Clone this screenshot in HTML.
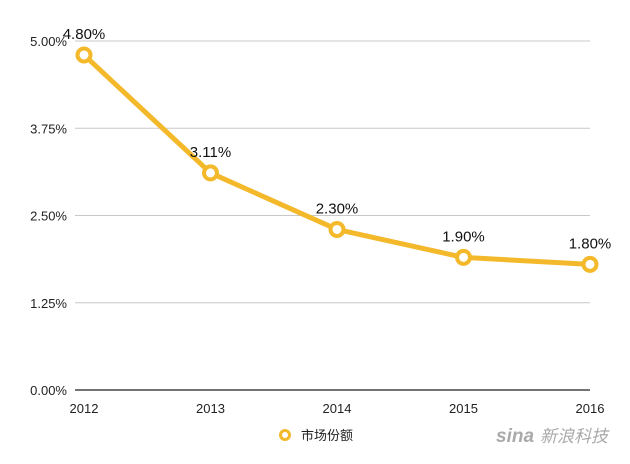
<!DOCTYPE html>
<html><head><meta charset="utf-8"><style>
body{margin:0;background:#fff;width:630px;height:459px;overflow:hidden;font-family:"Liberation Sans","Noto Sans CJK SC",sans-serif}
</style></head><body>
<svg id="chart" width="630" height="459" font-family="Liberation Sans, Noto Sans CJK SC, sans-serif"></svg>
<script>
const categories=["2012","2013","2014","2015","2016"];
const shareValues=[4.80,3.11,2.30,1.90,1.80];
const valueLabels=["4.80%","3.11%","2.30%","1.90%","1.80%"];
const yTicks=[0,1.25,2.5,3.75,5];
const yTickLabels=["0.00%","1.25%","2.50%","3.75%","5.00%"];
const svg=document.getElementById('chart');
const NS='http://www.w3.org/2000/svg';
const x=i=>84+i*(590-84)/(categories.length-1);
const y=v=>390-v*(390-41)/5;
function mk(t,a){const e=document.createElementNS(NS,t);for(const k in a)e.setAttribute(k,a[k]);svg.appendChild(e);return e;}
yTicks.forEach((t,i)=>{
  const l=mk('line',{x1:75,x2:590,y1:y(t),y2:y(t),stroke:i===0?'#222':'#c8c8c8','stroke-width':i===0?1.2:1});
  
  
  const tx=mk('text',{x:67,y:y(t)+5,'text-anchor':'end','font-size':13,fill:'#222'});
  tx.textContent=yTickLabels[i];
  
  
});
categories.forEach((c,i)=>{
  const tx=mk('text',{x:x(i),y:413,'text-anchor':'middle','font-size':13,fill:'#222'});
  tx.textContent=c;
  
  
});
const line=mk('polyline',{points:shareValues.map((v,i)=>x(i)+','+y(v)).join(' '),fill:'none',stroke:'#f4b92b','stroke-width':5,'stroke-linejoin':'round'});


shareValues.forEach((v,i)=>{
  const c=mk('circle',{cx:x(i),cy:y(v),r:6.5,fill:'#fff',stroke:'#f4b92b','stroke-width':4});
  
  
  const t=mk('text',{x:x(i),y:y(v)-16,'text-anchor':'middle','font-size':15,fill:'#111'});
  t.textContent=valueLabels[i];
  
  
});
const lm=mk('circle',{cx:285,cy:435,r:4.5,fill:'#fff',stroke:'#f4b92b','stroke-width':3});


const lt=mk('text',{x:301,y:440,'font-size':13,fill:'#222'});
lt.textContent='市场份额';


const wm=mk('text',{x:496,y:442,'font-size':19,fill:'#aaa','font-style':'italic','font-weight':'bold'});
wm.textContent='sina';


const wm2=mk('text',{x:540,y:442,'font-size':17,fill:'#aaa','font-style':'italic'});
wm2.textContent='新浪科技';


</script>
</body></html>
